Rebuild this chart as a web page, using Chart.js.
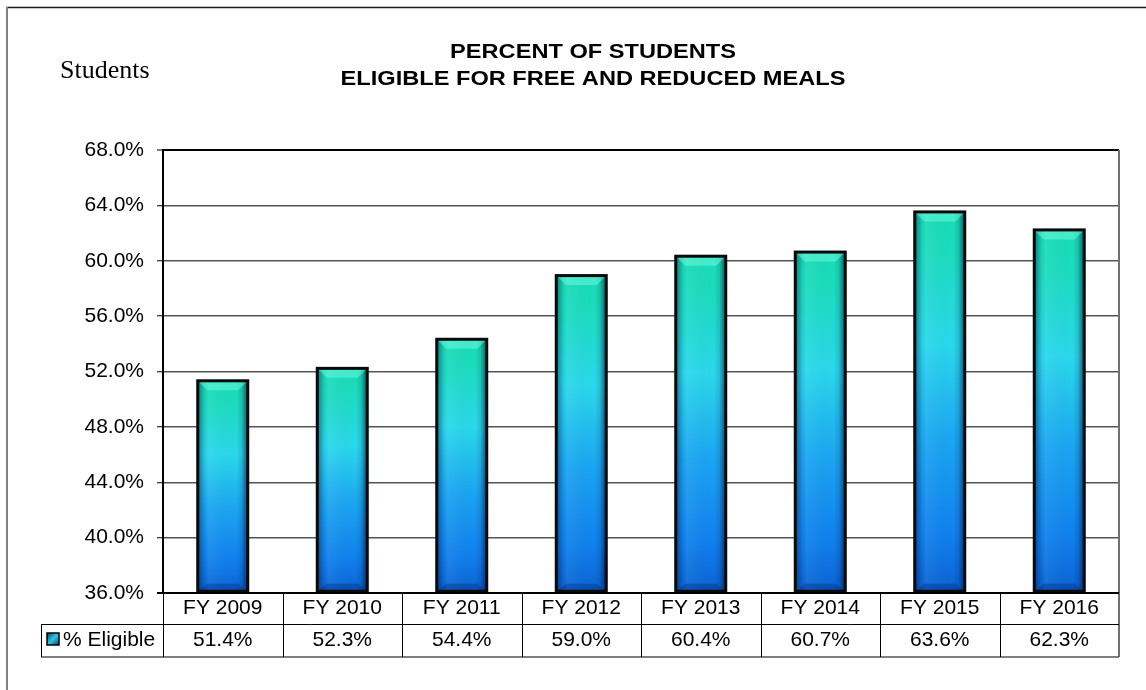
<!DOCTYPE html>
<html>
<head>
<meta charset="utf-8">
<script src="https://cdn.jsdelivr.net/npm/chart.js@4.4.0/dist/chart.umd.min.js"></script>
<style>
  html, body { margin: 0; padding: 0; background: #ffffff; }
  #wrap { position: relative; width: 1146px; height: 690px; }
  canvas { display: block; }
</style>
</head>
<body>
<div id="wrap"><canvas id="c" width="1146" height="690"></canvas></div>
<script>
// ---- data ----
const categories = ['FY 2009', 'FY 2010', 'FY 2011', 'FY 2012', 'FY 2013', 'FY 2014', 'FY 2015', 'FY 2016'];
const eligible = [51.4, 52.3, 54.4, 59.0, 60.4, 60.7, 63.6, 62.3];
const valueLabels = ['51.4%', '52.3%', '54.4%', '59.0%', '60.4%', '60.7%', '63.6%', '62.3%'];
const seriesName = '% Eligible';
const titleLines = ['PERCENT OF STUDENTS', 'ELIGIBLE FOR FREE AND REDUCED MEALS'];
const sideLabel = 'Students';
const yMin = 36, yMax = 68, yStep = 4;

const SANS = "'Liberation Sans', Arial, sans-serif";
const SERIF = "'Liberation Serif', 'Times New Roman', serif";

function barGradient(context) {
  const chart = context.chart;
  const area = chart.chartArea;
  if (!area) return '#1a9ae8';
  const v = context.raw;
  const top = chart.scales.y.getPixelForValue(v);
  const bottom = chart.scales.y.getPixelForValue(yMin);
  if (!isFinite(top) || bottom - top < 2) return '#1a9ae8';
  const g = chart.ctx.createLinearGradient(0, top, 0, bottom);
  g.addColorStop(0.0, '#18dcb4');
  g.addColorStop(0.12, '#1cdcc0');
  g.addColorStop(0.35, '#2ad8ec');
  g.addColorStop(0.6, '#1ba6f2');
  g.addColorStop(0.85, '#1080ee');
  g.addColorStop(1.0, '#0a62d2');
  return g;
}

const decorPlugin = {
  id: 'decor',
  beforeDraw(chart) {
    const ctx = chart.ctx;
    ctx.save();
    ctx.fillStyle = '#ffffff';
    ctx.fillRect(0, 0, chart.width, chart.height);
    // outer frame (top and left visible)
    ctx.strokeStyle = '#1a1a1a';
    ctx.lineWidth = 1.5;
    ctx.beginPath();
    ctx.moveTo(6, 7.5);
    ctx.lineTo(chart.width, 7.5);
    ctx.stroke();
    ctx.strokeStyle = '#808080';
    ctx.lineWidth = 2;
    ctx.beginPath();
    ctx.moveTo(7, 7);
    ctx.lineTo(7, chart.height);
    ctx.stroke();
    // titles (slightly widened bold face)
    ctx.fillStyle = '#000000';
    ctx.textAlign = 'center';
    ctx.textBaseline = 'alphabetic';
    ctx.font = 'bold 20px ' + SANS;
    ctx.save();
    ctx.translate(593, 0);
    ctx.scale(1.18, 1);
    ctx.fillText(titleLines[0], 0, 58);
    ctx.fillText(titleLines[1], 0, 85);
    ctx.restore();
    ctx.textAlign = 'left';
    ctx.font = '26px ' + SERIF;
    ctx.fillText(sideLabel, 60, 78);
    ctx.restore();
  },
  afterDatasetsDraw(chart) {
    const ctx = chart.ctx;
    const area = chart.chartArea;
    const meta = chart.getDatasetMeta(0);
    ctx.save();
    meta.data.forEach((el) => {
      const p = el.getProps(['x', 'y', 'width', 'base'], true);
      const base = Math.min(p.base, area.bottom);
      const l = p.x - p.width / 2 + 1.5, r = p.x + p.width / 2 - 1.5;
      const t = p.y + 1.5, b = base - 1.5;
      const w = r - l;
      // side shading
      const hg = ctx.createLinearGradient(l, 0, r, 0);
      hg.addColorStop(0, 'rgba(0,20,60,0.45)');
      hg.addColorStop(0.14, 'rgba(0,20,60,0.05)');
      hg.addColorStop(0.22, 'rgba(255,255,255,0.06)');
      hg.addColorStop(0.78, 'rgba(0,0,0,0.0)');
      hg.addColorStop(0.88, 'rgba(0,20,60,0.12)');
      hg.addColorStop(1, 'rgba(0,10,40,0.6)');
      ctx.fillStyle = hg;
      ctx.fillRect(l, t, w, b - t);
      // top bevel
      const bv = 9;
      ctx.fillStyle = 'rgba(120,255,230,0.45)';
      ctx.beginPath();
      ctx.moveTo(l, t);
      ctx.lineTo(r, t);
      ctx.lineTo(r - bv, t + bv);
      ctx.lineTo(l + bv, t + bv);
      ctx.closePath();
      ctx.fill();
      // bottom bevel
      ctx.fillStyle = 'rgba(0,40,120,0.35)';
      ctx.beginPath();
      ctx.moveTo(l, b);
      ctx.lineTo(r, b);
      ctx.lineTo(r - bv, b - bv + 2);
      ctx.lineTo(l + bv, b - bv + 2);
      ctx.closePath();
      ctx.fill();
      // border
      ctx.strokeStyle = '#0a0a0a';
      ctx.lineWidth = 3;
      ctx.strokeRect(l - 0.5, t - 0.5, w + 1, b - t + 1);
    });
    ctx.restore();
  },
  afterDraw(chart) {
    const ctx = chart.ctx;
    const area = chart.chartArea;
    const xs = chart.scales.x;
    const n = categories.length;
    const cellW = (area.right - area.left) / n;
    const row1Top = area.bottom, row1Bot = area.bottom + 31, row2Bot = area.bottom + 64;
    const legLeft = 41;
    ctx.save();
    // plot right border
    ctx.strokeStyle = '#707070';
    ctx.lineWidth = 2;
    ctx.beginPath();
    ctx.moveTo(area.right, area.top);
    ctx.lineTo(area.right, row2Bot);
    ctx.stroke();
    // plot bottom line
    ctx.strokeStyle = '#000000';
    ctx.lineWidth = 2;
    ctx.beginPath();
    ctx.moveTo(area.left - 6, area.bottom);
    ctx.lineTo(area.right, area.bottom);
    ctx.stroke();
    // table lines
    ctx.lineWidth = 1;
    ctx.strokeStyle = '#000000';
    ctx.beginPath();
    ctx.moveTo(legLeft, row1Bot + 0.5);
    ctx.lineTo(area.right, row1Bot + 0.5);
    ctx.stroke();
    ctx.strokeStyle = '#555555';
    ctx.lineWidth = 1.5;
    ctx.beginPath();
    ctx.moveTo(legLeft, row2Bot);
    ctx.lineTo(area.right, row2Bot);
    ctx.stroke();
    ctx.strokeStyle = '#000000';
    ctx.lineWidth = 1;
    for (let i = 0; i < n; i++) {
      const xl = Math.round(area.left + i * cellW) + 0.5;
      ctx.beginPath();
      ctx.moveTo(xl, row1Top);
      ctx.lineTo(xl, row2Bot);
      ctx.stroke();
    }
    ctx.beginPath();
    ctx.moveTo(legLeft + 0.5, row1Bot);
    ctx.lineTo(legLeft + 0.5, row2Bot);
    ctx.stroke();
    // texts
    ctx.fillStyle = '#000000';
    ctx.font = '21px ' + SANS;
    ctx.textAlign = 'center';
    ctx.textBaseline = 'middle';
    categories.forEach((c, i) => {
      const cx = xs.getPixelForValue(i);
      ctx.fillText(c, cx, row1Top + 15.5);
      ctx.fillText(valueLabels[i], cx, row1Bot + 16.5);
    });
    // legend key
    const kx = 47, ky = 633, ks = 12;
    const kg = ctx.createLinearGradient(kx, ky, kx + ks, ky + ks);
    kg.addColorStop(0, '#0a3a60');
    kg.addColorStop(0.5, '#2ac8e8');
    kg.addColorStop(1, '#0a4070');
    ctx.fillStyle = kg;
    ctx.fillRect(kx, ky, ks, ks);
    ctx.strokeStyle = '#000000';
    ctx.lineWidth = 1.5;
    ctx.strokeRect(kx, ky, ks, ks);
    ctx.fillStyle = '#000000';
    ctx.textAlign = 'left';
    ctx.fillText(seriesName, 63, row1Bot + 16.5);
    ctx.restore();
  }
};

new Chart(document.getElementById('c'), {
  type: 'bar',
  data: {
    labels: categories,
    datasets: [{
      label: seriesName,
      data: eligible,
      base: yMin,
      backgroundColor: barGradient,
      borderColor: '#0a0a0a',
      borderWidth: 0,
      categoryPercentage: 1.0,
      barPercentage: 0.435
    }]
  },
  options: {
    responsive: false,
    animation: false,
    devicePixelRatio: 1,
    layout: { padding: { left: 0, top: 150, right: 27, bottom: 97 } },
    plugins: {
      legend: { display: false },
      title: { display: false },
      tooltip: { enabled: false }
    },
    scales: {
      x: {
        display: false,
        offset: true,
        grid: { display: false }
      },
      y: {
        min: yMin,
        max: yMax,
        afterFit(scale) { scale.width = 163; },
        ticks: {
          stepSize: yStep,
          padding: 13,
          color: '#000000',
          font: { family: SANS, size: 21 },
          callback: (v) => Number(v).toFixed(1) + '%'
        },
        grid: {
          color: (c) => (c.tick && c.tick.value === yMax) ? '#000000' : '#555555',
          lineWidth: (c) => (c.tick && c.tick.value === yMax) ? 2 : 1.5,
          tickColor: '#000000',
          tickWidth: 1,
          tickLength: 6,
          drawTicks: true
        },
        border: { display: true, color: '#000000', width: 2 }
      }
    }
  },
  plugins: [decorPlugin]
});
</script>
</body>
</html>
